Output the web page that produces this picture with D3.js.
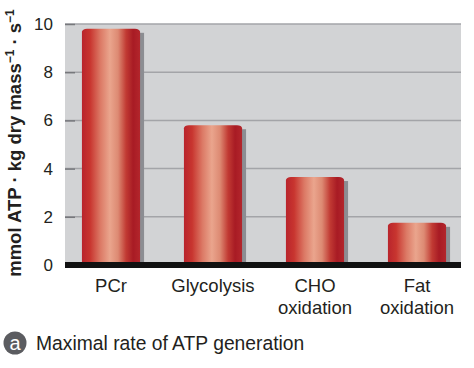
<!DOCTYPE html>
<html lang="en">
<meta charset="utf-8">
<script src="https://d3js.org/d3.v7.min.js"></script>
<style>
  body { margin: 0; background: #fff; }
  text { font-family: "Liberation Sans", Arial, sans-serif; fill: #231f20; }
</style>
<body>
<div id="chart"></div>
<script>
// data
var categories = ["PCr", "Glycolysis", "CHO oxidation", "Fat oxidation"];
var labelLines = [["PCr"], ["Glycolysis"], ["CHO", "oxidation"], ["Fat", "oxidation"]];
var rates = [9.8, 5.8, 3.65, 1.75];
var yTicks = [0, 2, 4, 6, 8, 10];

var W = 474, H = 368;
var plot = {left: 65, right: 461, top: 24, bottom: 265};

var svg = d3.select("#chart").append("svg")
    .attr("width", W)
    .attr("height", H);

var defs = svg.append("defs");
var grad = defs.append("linearGradient")
    .attr("id", "barGrad")
    .attr("x1", "0%").attr("x2", "100%").attr("y1", "0%").attr("y2", "0%");
[[0, "#b9242c"], [0.14, "#c8352f"], [0.32, "#dc7a66"], [0.48, "#eaa58d"], [0.62, "#dd8a73"],
 [0.76, "#c13a33"], [0.88, "#a81b24"], [1, "#b3262c"]].forEach(function(s) {
  grad.append("stop").attr("offset", s[0]).attr("stop-color", s[1]);
});

var x = d3.scaleBand()
    .domain(categories)
    .range([60, 468])
    .paddingInner(0.43)
    .paddingOuter(0.215);

var y = d3.scaleLinear()
    .domain([0, 10])
    .range([plot.bottom, plot.top]);

// plot background
svg.append("rect")
    .attr("x", plot.left)
    .attr("y", plot.top)
    .attr("width", plot.right - plot.left)
    .attr("height", plot.bottom - plot.top)
    .attr("fill", "#d2d3d5");

// gridlines
svg.append("g")
  .selectAll("line")
  .data(yTicks.filter(function(d) { return d > 0; }))
  .enter().append("line")
    .attr("x1", plot.left).attr("x2", plot.right)
    .attr("y1", function(d) { return y(d); })
    .attr("y2", function(d) { return y(d); })
    .attr("stroke", "#a3a4a8")
    .attr("stroke-width", 1.5);

// y axis: tick stubs and labels
var yAxis = svg.append("g")
    .attr("transform", "translate(" + (plot.left + 10) + ",0)")
    .call(d3.axisLeft(y).tickValues(yTicks).tickSize(10).tickPadding(12));
yAxis.select(".domain").remove();
yAxis.selectAll(".tick line").attr("stroke", "#77787c").attr("stroke-width", 1.5);
yAxis.selectAll(".tick text")
    .attr("font-size", 17)
    .attr("fill", "#231f20")
    .style("font-family", "'Liberation Sans', Arial, sans-serif");

// bar shadows
svg.append("g")
  .selectAll("rect")
  .data(rates)
  .enter().append("rect")
    .attr("x", function(d, i) { return x(categories[i]) + x.bandwidth() - 2; })
    .attr("y", function(d) { return y(d) + 4; })
    .attr("width", 6)
    .attr("height", function(d) { return y(0) - y(d) - 4; })
    .attr("fill", "#8c8d92");

// bars
svg.append("g")
  .selectAll("rect")
  .data(rates)
  .enter().append("rect")
    .attr("x", function(d, i) { return x(categories[i]); })
    .attr("y", function(d) { return y(d); })
    .attr("width", x.bandwidth())
    .attr("height", function(d) { return y(0) - y(d) + 2; })
    .attr("rx", 5).attr("ry", 3)
    .attr("fill", "url(#barGrad)");

// baseline
svg.append("rect")
    .attr("x", plot.left)
    .attr("y", y(0) - 3)
    .attr("width", plot.right - plot.left)
    .attr("height", 6)
    .attr("fill", "#111");

// category labels
var xl = svg.append("g")
  .selectAll("text")
  .data(labelLines)
  .enter().append("text")
    .attr("text-anchor", "middle")
    .attr("font-size", 18.5)
    .attr("y", 292);
xl.selectAll("tspan")
  .data(function(d, i) { return d.map(function(t) { return {t: t, i: i}; }); })
  .enter().append("tspan")
    .attr("x", function(d) { return x(categories[d.i]) + x.bandwidth() / 2; })
    .attr("dy", function(d, j) { return j === 0 ? 0 : 22; })
    .text(function(d) { return d.t; });

// y axis title
var yt = svg.append("text")
    .attr("transform", "translate(21,143) rotate(-90)")
    .attr("text-anchor", "middle")
    .attr("font-size", 18.5)
    .attr("font-weight", "bold");
yt.append("tspan").text("mmol ATP · kg dry mass");
yt.append("tspan").attr("dy", -7).attr("font-size", 12).text("−1");
yt.append("tspan").attr("dy", 7).text(" · s");
yt.append("tspan").attr("dy", -7).attr("font-size", 12).text("−1");

// caption
svg.append("circle")
    .attr("cx", 15).attr("cy", 343).attr("r", 11.5)
    .attr("fill", "#5b5c60");
svg.append("text")
    .attr("x", 15).attr("y", 350)
    .attr("text-anchor", "middle")
    .attr("font-size", 20)
    .style("fill", "#fff")
    .text("a");
svg.append("text")
    .attr("x", 36).attr("y", 350)
    .attr("font-size", 19.3)
    .text("Maximal rate of ATP generation");
</script>
</body>
</html>
